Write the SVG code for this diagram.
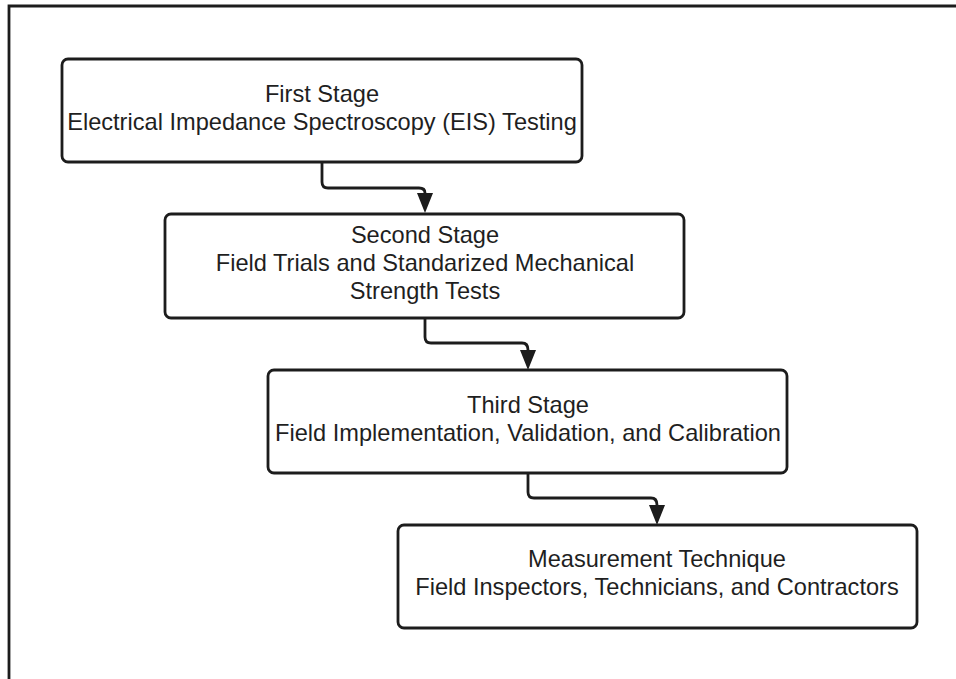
<svg xmlns="http://www.w3.org/2000/svg" width="956" height="679" viewBox="0 0 956 679">
  <style>
    .box { fill: #ffffff; stroke: #1c1c1c; stroke-width: 2.8; }
    .lbl { font-family: "Liberation Sans", Arial, sans-serif; font-size: 23.6px; fill: #1f1f1f; text-anchor: middle; }
    .conn { fill: none; stroke: #1c1c1c; stroke-width: 2.8; stroke-linejoin: round; }
    .frame { fill: none; stroke: #1c1c1c; stroke-width: 2.8; }
  </style>
  <defs>
    <marker id="arrow" markerUnits="userSpaceOnUse" markerWidth="20" markerHeight="16" viewBox="0 0 20 16" refX="0" refY="8" orient="auto">
      <path d="M0,0 L20,8 L0,16 Z" fill="#1c1c1c"/>
    </marker>
  </defs>
  <rect width="956" height="679" fill="#ffffff"/>
  <g id="frame">
    <path class="frame" d="M9,679 V6 H956"/>
  </g>
  <g id="connectors">
    <path class="conn" marker-end="url(#arrow)" d="M322,162 V182 Q322,188 328,188 H419 Q425,188 425,193"/>
    <path class="conn" marker-end="url(#arrow)" d="M425,318 V337 Q425,343 431,343 H522 Q528,343 528,350"/>
    <path class="conn" marker-end="url(#arrow)" d="M528,473 V492 Q528,498 534,498 H651 Q657,498 657,505"/>
  </g>
  <g id="node-first-stage">
    <rect class="box" x="62" y="59" width="520" height="103" rx="6"/>
    <text class="lbl" x="322" y="102">First Stage</text>
    <text class="lbl" x="322" y="130">Electrical Impedance Spectroscopy (EIS) Testing</text>
  </g>
  <g id="node-second-stage">
    <rect class="box" x="165" y="214" width="519" height="104" rx="6"/>
    <text class="lbl" x="425" y="243">Second Stage</text>
    <text class="lbl" x="425" y="271">Field Trials and Standarized Mechanical</text>
    <text class="lbl" x="425" y="299">Strength Tests</text>
  </g>
  <g id="node-third-stage">
    <rect class="box" x="268" y="370" width="519" height="103" rx="6"/>
    <text class="lbl" x="528" y="413">Third Stage</text>
    <text class="lbl" x="528" y="441">Field Implementation, Validation, and Calibration</text>
  </g>
  <g id="node-measurement">
    <rect class="box" x="398" y="525" width="519" height="103" rx="6"/>
    <text class="lbl" x="657" y="567">Measurement Technique</text>
    <text class="lbl" x="657" y="595">Field Inspectors, Technicians, and Contractors</text>
  </g>
</svg>
